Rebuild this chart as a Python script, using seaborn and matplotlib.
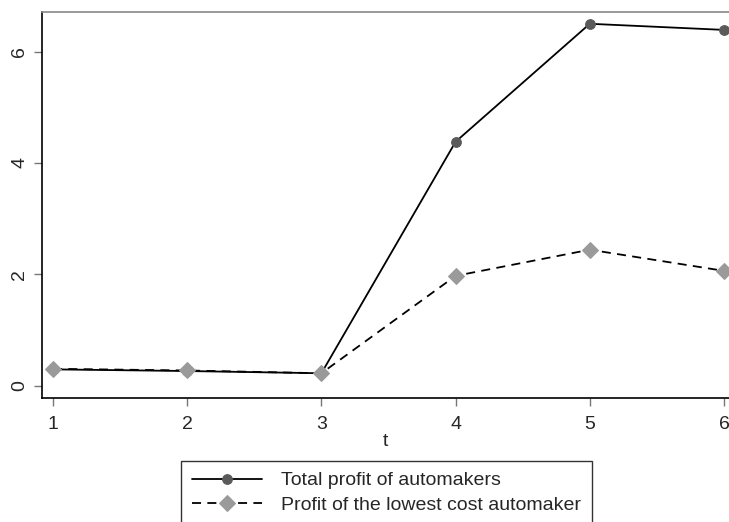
import pandas as pd
import matplotlib.pyplot as plt
import seaborn as sns

# values
t = [1, 2, 3, 4, 5, 6]
total_profit = [0.29, 0.26, 0.22, 4.38, 6.50, 6.39]
lowest_cost_profit = [0.30, 0.27, 0.22, 1.97, 2.44, 2.06]
labels = ["Total profit of automakers", "Profit of the lowest cost automaker"]

df = pd.DataFrame({"t": t, "total": total_profit, "lowest": lowest_cost_profit})

sns.set_style("white")
plt.rcParams['font.family'] = ['Liberation Sans', 'DejaVu Sans']

fig = plt.figure(figsize=(7.29, 5.22), dpi=100)
ax = fig.add_axes([42 / 729, 1 - 398 / 522, 1 - 42 / 729, (398 - 12) / 522])

sns.lineplot(data=df, x="t", y="total", ax=ax, color="black", linewidth=1.3,
             marker="o", markersize=7, markerfacecolor="#5a5a5a",
             markeredgecolor="#5a5a5a", label=labels[0])
sns.lineplot(data=df, x="t", y="lowest", ax=ax, color="black", linewidth=1.3,
             linestyle=(0, (5, 3.5)), marker="D", markersize=8,
             markerfacecolor="#9a9a9a", markeredgecolor="#9a9a9a", label=labels[1])

ax.set_xlim(1 - 11 / 134.2, 6 + 5 / 134.2)
ax.set_ylim(-12.5 / 55.65, 373.5 / 55.65)
ax.set_xticks(t)
ax.set_yticks([0, 2, 4, 6])
ax.set_xlabel("t", fontsize=14, labelpad=0)
ax.set_ylabel("")
ax.tick_params(axis="x", pad=7)
ax.tick_params(axis="y", pad=4)
ax.tick_params(axis="both", direction="out", length=6, width=1, color="#777777",
               labelsize=14, bottom=True, left=True)
for lab in ax.get_yticklabels():
    lab.set_rotation(90)
    lab.set_va("center")

ax.spines["left"].set_color("black")
ax.spines["bottom"].set_color("black")
ax.spines["left"].set_linewidth(1.2)
ax.spines["bottom"].set_linewidth(1.2)
ax.spines["top"].set_color("#888888")
ax.spines["top"].set_linewidth(1.2)
ax.spines["right"].set_visible(False)

handles, lbls = ax.get_legend_handles_labels()
ax.get_legend().remove()
leg = fig.legend(handles, lbls, loc="upper left", bbox_to_anchor=(181 / 729, 1 - 461 / 522),
                 fontsize=14, frameon=True, fancybox=False, edgecolor="black",
                 handlelength=3.6, handletextpad=1.0, borderpad=0.55, labelspacing=0.35,
                 borderaxespad=0)
leg.get_frame().set_linewidth(1.0)

fig.savefig("out.png", dpi=100)
